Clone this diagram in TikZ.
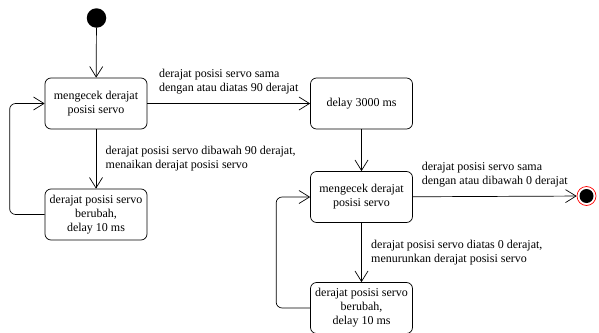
\documentclass[tikz,border=0pt]{standalone}
\usepackage{fontspec}
\setmainfont{Liberation Serif}
\usetikzlibrary{arrows.meta}

\begin{document}
\begin{tikzpicture}[x=1pt, y=-1pt, line width=0.7pt,
    every node/.style={font=\fontsize{12}{14}\selectfont},
    statebox/.style={rectangle, draw, rounded corners=6pt, minimum width=102pt,
      minimum height=51pt, align=center, inner sep=2pt},
    guard/.style={align=left},
    >={Straight Barb[length=10.5pt, width=13pt]}]
  \useasboundingbox (0,0) rectangle (599,332);

  \node (S) [circle, fill=black, minimum size=19.5pt, inner sep=0pt] at (96.5,18) {};
  \node (A) [statebox] at (96,103.5) {mengecek derajat\\posisi servo};
  \node (B) [statebox] at (96,214.5) {derajat posisi servo\\berubah,\\delay 10 ms};
  \node (C) [statebox] at (361.5,103.5) {delay 3000 ms};
  \node (D) [statebox] at (361.5,197) {mengecek derajat\\posisi servo};
  \node (E) [statebox] at (361.5,308) {derajat posisi servo\\berubah,\\delay 10 ms};
  \node (F) [circle, draw=red, fill=white, minimum size=19pt, inner sep=0pt] at (586.5,196) {};
  \node (Fin) [circle, fill=black, minimum size=14pt, inner sep=0pt] at (F) {};

  \draw[->] (S) -- (A);
  \draw[->] (A) -- (B) node [midway, right, xshift=6, guard] {derajat posisi servo dibawah 90 derajat,\\menaikan derajat posisi servo};
  \draw[->, rounded corners=6pt] (B.west) -- ++(-35,0) |- (A.west);
  \draw[->] (A) -- (C) node [midway, above, yshift=6, guard] {derajat posisi servo sama\\dengan atau diatas 90 derajat};
  \draw[->] (C) -- (D);
  \draw[->] (D) -- (E) node [midway, right, xshift=6, guard] {derajat posisi servo diatas 0 derajat,\\menurunkan derajat posisi servo};
  \draw[->, rounded corners=6pt] (E.west) -- ++(-34,0) |- (D.west);
  \draw[->] (D) -- (F) node [midway, above, yshift=6, guard] {derajat posisi servo sama\\dengan atau dibawah 0 derajat};
\end{tikzpicture}
\end{document}
